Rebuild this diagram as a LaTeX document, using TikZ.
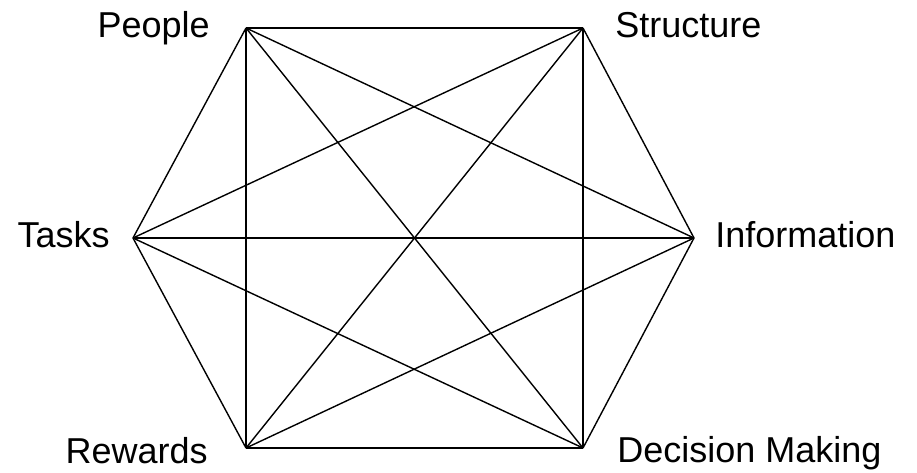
\documentclass[tikz,border=0pt]{standalone}
\usepackage{fontspec}
\setmainfont{Liberation Sans}
\usepackage{tikz}
\usetikzlibrary{positioning}

\begin{document}
\begin{tikzpicture}[
        x=0.5pt, y=-0.5pt,
        link/.style={draw=black, line width=0.7pt},
        lbl/.style={inner sep=0pt, font=\fontsize{18}{21}\selectfont}
    ]
    \useasboundingbox (0,0) rectangle (917,472);

    % Ecken des Sechsecks
    \coordinate (people) at (246,28);
    \coordinate (structure) at (583,28);
    \coordinate (information) at (694,238);
    \coordinate (decision) at (583,448);
    \coordinate (rewards) at (246,448);
    \coordinate (tasks) at (133,238);

    % Beschriftungen
    \node[lbl, anchor=base east] (peopleL) at ([xshift=-18pt, yshift=-4.5pt]people) {People};
    \node[lbl, anchor=base west] (structureL) at ([xshift=16pt, yshift=-4.5pt]structure) {Structure};
    \node[lbl, anchor=base west] (informationL) at ([xshift=10.5pt, yshift=-4.5pt]information) {Information};
    \node[lbl, anchor=base west] (decisionL) at ([xshift=17pt, yshift=-7pt]decision) {Decision Making};
    \node[lbl, anchor=base east] (rewardsL) at ([xshift=-19pt, yshift=-7.5pt]rewards) {Rewards};
    \node[lbl, anchor=base east] (tasksL) at ([xshift=-11.5pt, yshift=-4.5pt]tasks) {Tasks};

    % Jede Ecke mit jeder verbinden
    \foreach \a/\b in {people/structure, people/information, people/decision, people/rewards, people/tasks,
                       structure/information, structure/decision, structure/rewards, structure/tasks,
                       information/decision, information/rewards, information/tasks,
                       decision/rewards, decision/tasks,
                       rewards/tasks}
        \draw[link] (\a) -- (\b);

\end{tikzpicture}
\end{document}
